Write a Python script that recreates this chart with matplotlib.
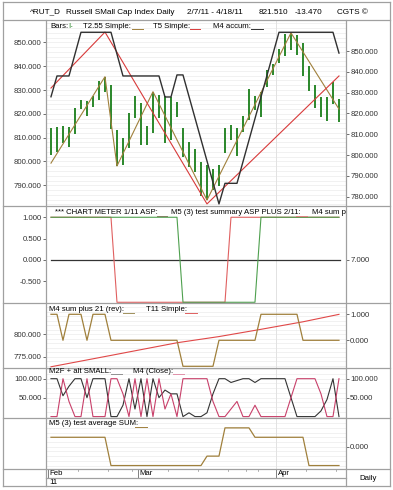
import numpy as np
import matplotlib
matplotlib.use('Agg')
import matplotlib.pyplot as plt
from matplotlib.lines import Line2D

plt.rcParams['font.family'] = ['Liberation Sans', 'DejaVu Sans']

W, H = 393, 490
FS = 5.6
EDGE = '#a0a0a0'

# trading days 2/7/11 .. 4/15/11 (index 0..48)
days = np.arange(49)
bar_high = [813.9, 814.6, 814.9, 814.3, 822.3, 825.8, 825.5, 827.5, 833.9, 835.6,
            832.1, 813.2, 809.8, 820.3, 827.5, 824.5, 814.9, 829.3, 827.9, 827.5,
            826.9, 825.1, 813.9, 808.3, 805.2, 799.8, 798.5, 796.8, 798.5, 813.9,
            815.3, 814.0, 819.1, 830.3, 827.5, 829.3, 838.4, 840.8, 847.1, 853.5,
            854.0, 853.1, 849.6, 840.1, 832.1, 827.2, 826.9, 833.5, 826.1]
bar_low = [802.7, 804.1, 807.9, 806.2, 811.5, 821.9, 819.1, 823.0, 825.8, 829.3,
           813.6, 798.1, 798.5, 805.6, 818.2, 806.9, 806.9, 812.1, 818.1, 807.6,
           809.0, 818.8, 802.0, 797.8, 795.6, 785.5, 783.8, 788.0, 789.7, 803.7,
           809.0, 802.3, 812.4, 817.4, 821.6, 818.8, 831.4, 836.3, 841.2, 844.3,
           846.8, 844.7, 835.9, 829.7, 822.3, 818.8, 817.1, 824.1, 816.7]

# zigzag / accum lines (vertex day, value)
t255_x = [0, 9, 11, 17, 26, 40, 48]
t255_y = [799.3, 835.6, 798.1, 829.3, 783.8, 854.0, 822.0]
t5_x = [0, 9, 26, 48]
t5_y = [832.2, 859.1, 776.5, 838.0]
m4acc_x = [0, 1, 3, 5, 10, 12, 18, 19, 20, 21, 22, 28, 29, 31, 38, 47, 48]
m4acc_y = [828.0, 838.0, 838.0, 859.0, 859.0, 838.0, 838.0, 827.9, 827.9, 838.5,
           838.5, 776.5, 786.4, 786.4, 859.0, 859.0, 849.0]

# chart meter panel
meter_green = [1] * 22 + [-1] * 13 + [1] * 14
meter_red = [1] * 11 + [-1] * 19 + [1] * 19

# M4 sum plus 21 / T11
m4sum21 = [1, 1, 0, 1, 1, 1, 0, 1, 1, 1, 0] + [0] * 11 + [-1] * 6 + [0] * 7 + [1] * 7 + [0] * 7
t11_x = [0, 10, 21, 28, 35, 42, 48]
t11_y = [763.8, 776.5, 790.6, 797.5, 805.6, 814.0, 822.3]

# M2F + alt SMALL (black) / M4 Close (pink)
m2f = [100, 100, 55, 80, 100, 100, 50, 100, 100, 100, 0, 0, 30, 100, 20, 100, 0, 100, 50, 70,
       60, 60, 0, 10, 0, 0, 10, 60, 100, 100, 90, 95, 100, 100, 90, 100, 100, 100, 100, 100,
       50, 0, 0, 0, 0, 15, 45, 100, 0]
m4close = [0, 0, 100, 40, 0, 0, 100, 0, 0, 0, 100, 100, 60, 0, 100, 0, 100, 0, 100, 20,
           60, 0, 100, 100, 100, 100, 100, 40, 0, 0, 20, 40, 0, 0, 30, 0, 0, 0, 0, 0,
           50, 100, 100, 100, 100, 60, 0, 0, 100]

# M5 (3) test average SUM
m5avg = [0.5] * 10 + [-1] * 16 + [-0.5] * 3 + [1] * 5 + [0.5] * 9 + [-1] * 6

months = ['Feb', 'Mar', 'Apr']
month_start = [-0.5, 14.5, 37.5]
XL = (-0.83, 49.17)


def px_axes(fig, x0, y0, x1, y1):
    return fig.add_axes([x0 / W, 1 - y1 / H, (x1 - x0) / W, (y1 - y0) / H])


def hline(fig, x0, x1, y, c=EDGE, lw=0.9):
    fig.add_artist(Line2D([x0 / W, x1 / W], [1 - y / H, 1 - y / H], color=c, lw=lw))


def vline(fig, x, y0, y1, c=EDGE, lw=0.9):
    fig.add_artist(Line2D([x / W, x / W], [1 - y0 / H, 1 - y1 / H], color=c, lw=lw))


def ftext(fig, x, y, s, **kw):
    kw.setdefault('fontsize', FS)
    kw.setdefault('va', 'center')
    fig.text(x / W, 1 - y / H, s, **kw)


def sample(fig, x0, x1, y, c):
    fig.add_artist(Line2D([x0 / W, x1 / W], [1 - y / H, 1 - y / H], color=c, lw=0.7))


def style(ax, yl, lt, rt=None, rlabels=None, grid_step=None):
    ax.set_xlim(*XL)
    ax.set_ylim(*yl)
    ax.set_xticks([])
    ax.set_yticks(lt)
    ax.set_yticklabels(['%.3f' % v for v in lt])
    ax.tick_params(axis='y', length=2, width=0.5, colors='#333333', labelsize=FS, pad=1)
    for s in ax.spines.values():
        s.set_visible(False)
    if grid_step:
        for g in np.arange(yl[0] - yl[0] % grid_step, yl[1], grid_step):
            ax.axhline(g, color='#ebebeb', lw=0.5, zorder=0)
    ax.axvline(37.5, color='#e2e2e2', lw=0.7, zorder=0)
    ax2 = ax.twinx()
    ax2.set_xlim(*XL)
    for s in ax2.spines.values():
        s.set_visible(False)
    if rt is not None:
        ax2.set_yticks(rt)
        ax2.set_yticklabels(rlabels if rlabels else ['%.3f' % v for v in rt])
    else:
        ax2.set_yticks([])
    ax2.tick_params(axis='y', length=2, width=0.5, colors='#333333', labelsize=FS, pad=1)
    return ax2


fig = plt.figure(figsize=(W / 100, H / 100), dpi=100)

# panel 1: price bars
ax1 = px_axes(fig, 46, 20, 346, 206)
ax1r = style(ax1, (781.3, 859.4), [790, 800, 810, 820, 830, 840, 850],
             [780, 790, 800, 810, 820, 830, 840, 850], grid_step=2)
ax1r.set_ylim(775.5, 864.9)
ax1.vlines(days, bar_low, bar_high, color='#2a872a', lw=1.4, zorder=3)
ax1.plot(t255_x, t255_y, color='#a0803c', lw=0.8, zorder=4)
ax1r.plot(t5_x, t5_y, color='#d83a3a', lw=0.8, zorder=4)
ax1r.plot(m4acc_x, m4acc_y, color='#303030', lw=1.0, zorder=4)

# panel 2: chart meter
ax2 = px_axes(fig, 46, 206, 346, 302.7)
ax2r = style(ax2, (-1.01, 1.265), [-0.5, 0, 0.5, 1], [0], ['7.000'])
ax2r.set_ylim(-1.01, 1.265)
ax2.axhline(0, xmin=0.017, xmax=0.98, color='#333333', lw=0.9)
ax2.plot(days, meter_red, color='#e06060', lw=0.8)
ax2.plot(days, meter_green, color='#4ea04e', lw=0.8)

# panel 3: M4 sum plus 21 / T11
ax3 = px_axes(fig, 46, 302.7, 346, 368.3)
ax3r = style(ax3, (762.1, 835.3), [775, 800], [0, 1], grid_step=5)
ax3r.set_ylim(-1.077, 1.446)
ax3.plot(t11_x, t11_y, color='#e04848', lw=0.8)
ax3r.plot(days, m4sum21, color='#a0803c', lw=0.9)

# panel 4: oscillators
ax4 = px_axes(fig, 46, 368.3, 346, 418.3)
ax4r = style(ax4, (-4.5, 127.4), [50, 100], [50, 100], grid_step=12.5)
ax4r.set_ylim(-4.5, 127.4)
ax4.plot(days, m2f, color='#333333', lw=0.8)
ax4.plot(days, m4close, color='#c8406a', lw=0.8)

# panel 5: M5 average sum
ax5 = px_axes(fig, 46, 418.3, 346, 469.3)
ax5r = style(ax5, (-1.199, 1.507), [], [0], grid_step=0.25)
ax5r.set_ylim(-1.199, 1.507)
ax5.plot(days, m5avg, color='#a0803c', lw=0.9)

# date row
axd = px_axes(fig, 46, 469.3, 346, 477.7)
axd.set_xlim(*XL)
axd.set_ylim(0, 1)
axd.axis('off')
for m, s in zip(months, month_start):
    axd.plot([s, s], [0, 1], color='#808080', lw=0.7)
    axd.text(s + 0.3, 0.45, m, fontsize=FS, va='center', ha='left')
for t in [4.5, 9.5, 13.5, 19.5, 24.5, 29.5, 32.5, 34.5, 42.5, 47.5]:
    axd.plot([t, t], [0.75, 1], color='#909090', lw=0.5)

# frame lines
hline(fig, 3, 390, 2.5)
hline(fig, 3, 390, 20)
for yy in (206, 302.7, 368.3, 418.3, 469.3):
    hline(fig, 3, 390, yy)
hline(fig, 46, 346, 477.7)
hline(fig, 3, 390, 486)
vline(fig, 3, 2.5, 486)
vline(fig, 390, 2.5, 486)
vline(fig, 46, 20, 486)
vline(fig, 346, 20, 486)

# title bar
ftext(fig, 29.5, 12, '^RUT_D', fontsize=5.9)
ftext(fig, 65.5, 12, 'Russell SMall Cap Index Daily', fontsize=5.9)
ftext(fig, 187, 12, '2/7/11 - 4/18/11', fontsize=5.9)
ftext(fig, 258.5, 12, '821.510', fontsize=5.9)
ftext(fig, 294.5, 12, '-13.470', fontsize=5.9)
ftext(fig, 337, 12, 'CGTS \u00a9', fontsize=5.9)

# legends
ftext(fig, 50, 26, 'Bars:')
ftext(fig, 68, 26, 'I-', color='#2a872a')
ftext(fig, 82.7, 26, 'T2.55 Simple:')
sample(fig, 131.7, 142.7, 29.5, '#a0803c')
ftext(fig, 153.3, 26, 'T5 Simple:')
sample(fig, 190, 200, 29.5, '#d83a3a')
ftext(fig, 212.7, 26, 'M4 accum:')
sample(fig, 251, 262.7, 29.5, '#303030')

ftext(fig, 55, 212.7, '*** CHART METER 1/11 ASP:')
sample(fig, 156.7, 166.7, 216, '#808060')
ftext(fig, 171, 212.7, 'M5 (3) test summary ASP PLUS 2/11:')
sample(fig, 296, 307, 216, '#e08080')
fig.text(311.7 / W, 1 - 212.7 / H, 'M4 sum plus', fontsize=FS, va='center',
         clip_on=True).set_clip_box(ax2.bbox)

ftext(fig, 49.3, 309.3, 'M4 sum plus 21 (rev):')
sample(fig, 122.7, 134, 312.5, '#a0905c')
ftext(fig, 145.7, 309.3, 'T11 Simple:')
sample(fig, 185, 197, 312.5, '#e06060')

ftext(fig, 49.3, 371.5, 'M2F + alt SMALL:')
sample(fig, 111, 122, 374.5, '#909090')
ftext(fig, 133.3, 371.5, 'M4 (Close):')
sample(fig, 173, 184, 374.5, '#e090a8')

ftext(fig, 49.3, 423.3, 'M5 (3) test average SUM:')
sample(fig, 135, 146.7, 426.5, '#a0803c')

ftext(fig, 49.3, 482, '11')
ftext(fig, 368, 478, 'Daily', ha='center')

fig.savefig('out.png', dpi=100)
